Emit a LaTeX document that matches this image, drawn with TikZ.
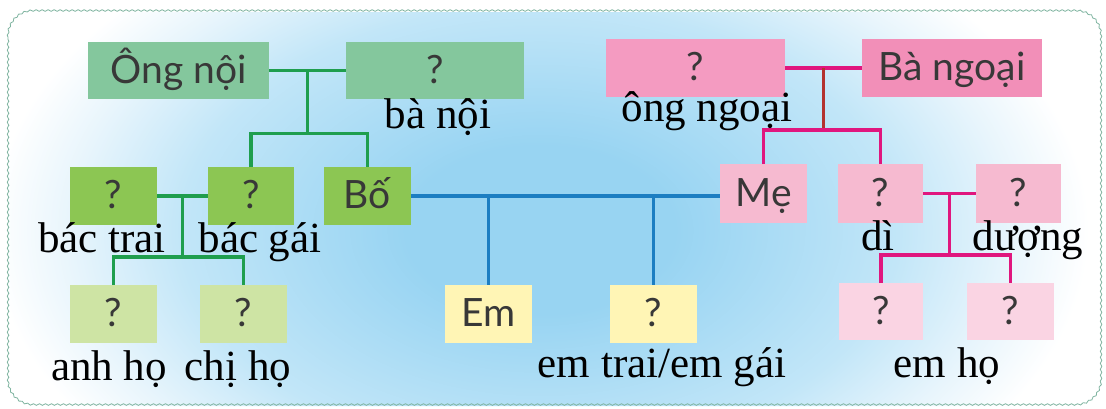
\documentclass[tikz,border=0pt]{standalone}
\usepackage{fontspec}
\setmainfont{Liberation Serif}
\newfontfamily\boxfont{Lato}
\usetikzlibrary{decorations.pathmorphing,calc}
\definecolor{gtop}{HTML}{84C79D}
\definecolor{gmid}{HTML}{8CC653}
\definecolor{glight}{HTML}{CEE4A4}
\definecolor{yel}{HTML}{FFF5B5}
\definecolor{ptopa}{HTML}{F49BC1}
\definecolor{ptopb}{HTML}{F28FB8}
\definecolor{pmid}{HTML}{F6BAD0}
\definecolor{plight}{HTML}{FAD4E3}
\definecolor{gline}{HTML}{1F9E4E}
\definecolor{bline}{HTML}{1C7EC2}
\definecolor{pline}{HTML}{E0167E}
\definecolor{rline}{HTML}{B3322F}
\definecolor{framec}{HTML}{7FB4A0}
\definecolor{bgc}{HTML}{98D4F2}
\definecolor{bgmid}{HTML}{C2E6F8}
\definecolor{bglow}{HTML}{E8F5FC}
\definecolor{boxtext}{HTML}{383838}
\pgfdeclareradialshading{bgshade}{\pgfpoint{0bp}{0bp}}{color(0bp)=(bgc); color(6bp)=(bgc); color(16bp)=(bgmid); color(21bp)=(bglow); color(24.5bp)=(white); color(50bp)=(white)}
\begin{document}
\begin{tikzpicture}[x=1pt,y=-1pt,
  box/.style={inner sep=0pt, outer sep=0pt, text=boxtext, font=\boxfont\fontsize{39}{44}\selectfont, text height=28pt, text depth=3pt},
  lbl/.style={anchor=base, inner sep=0pt, font=\fontsize{43}{48}\selectfont, text=black},
  gl/.style={draw=gline, line width=3.2pt},
  bl/.style={draw=bline, line width=3.2pt},
  pl/.style={draw=pline, line width=3.2pt},
  rl/.style={draw=rline, line width=3.2pt}]
\useasboundingbox (0,0) rectangle (1106,408);
\fill[white] (0,0) rectangle (1106,408);
\begin{scope}
  \clip[rounded corners=25pt] (8,12) rectangle (1101,406);
  \shade[shading=bgshade] (540,230) ellipse [x radius=560, y radius=350];
\end{scope}
\draw[framec, line width=0.8pt, decorate, decoration={snake, amplitude=0.8pt, segment length=6pt}]
  (8,37) arc[start angle=180, end angle=270, radius=25] -- (1076,12)
  arc[start angle=270, end angle=360, radius=25] -- (1101,381)
  arc[start angle=0, end angle=90, radius=25] -- (33,406)
  arc[start angle=90, end angle=180, radius=25] -- cycle;

% boxes
\node[box, fill=gtop, minimum width=181pt, minimum height=57pt] (on) at (178.5,70.5) {Ông nội};
\node[box, fill=gtop, minimum width=178pt, minimum height=57pt] (bn) at (435,70.5) {?};
\node[box, fill=gmid, minimum width=87pt, minimum height=58pt] (bt) at (113.5,196) {?};
\node[box, fill=gmid, minimum width=86pt, minimum height=58pt] (bg) at (251,196) {?};
\node[box, fill=gmid, minimum width=87pt, minimum height=58pt] (bo) at (367.5,196) {Bố};
\node[box, fill=glight, minimum width=87pt, minimum height=58pt] (ah) at (113.5,314) {?};
\node[box, fill=glight, minimum width=87pt, minimum height=58pt] (ch) at (243.5,314) {?};
\node[box, fill=yel, minimum width=87pt, minimum height=58pt] (em) at (488.5,314) {Em};
\node[box, fill=yel, minimum width=87pt, minimum height=58pt] (et) at (653.5,314) {?};
\node[box, fill=ptopa, minimum width=179pt, minimum height=58pt] (ong) at (695.5,68) {?};
\node[box, fill=ptopb, minimum width=180pt, minimum height=58pt] (bng) at (952,68) {Bà ngoại};
\node[box, fill=pmid, minimum width=87pt, minimum height=59pt] (me) at (763.5,193.5) {Mẹ};
\node[box, fill=pmid, minimum width=85pt, minimum height=59pt] (di) at (880.5,193.5) {?};
\node[box, fill=pmid, minimum width=85pt, minimum height=59pt] (du) at (1018.5,193.5) {?};
\node[box, fill=plight, minimum width=84pt, minimum height=57pt] (ca) at (881,311.5) {?};
\node[box, fill=plight, minimum width=87pt, minimum height=57pt] (cb) at (1010.5,311.5) {?};

% green connectors
\draw[gl] (on.east) -- (bn.west);
\coordinate (j1) at ($(on.east)!0.5!(bn.west)$);
\draw[gl] (j1) -- ++(0,63) coordinate (j1b);
\draw[gl] (bg.north) |- (j1b) -| (bo.north);
\draw[gl] (bt.east) -- (bg.west);
\coordinate (j2) at ($(bt.east)!0.5!(bg.west)$);
\draw[gl] (j2) -- ++(0,61) coordinate (j2b);
\draw[gl] (ah.north) |- (j2b) -| (ch.north);

% blue connectors
\draw[bl] (bo.east) -- (bo.east -| me.west);
\draw[bl] (em.north |- bo.east) -- (em.north);
\draw[bl] (et.north |- bo.east) -- (et.north);

% pink connectors
\draw[pl] (ong.east) -- (bng.west);
\coordinate (j3) at ($(ong.east)!0.5!(bng.west)$);
\draw[rl] (j3) -- ++(0,62) coordinate (j3b);
\draw[pl] (me.north) |- (j3b) -| (di.north);
\draw[pl] (di.east) -- (du.west);
\coordinate (j4) at ($(di.east)!0.5!(du.west)$);
\draw[pl] (j4) -- ++(0,61.5) coordinate (j4b);
\draw[pl] (ca.north) |- (j4b) -| (cb.north);

% labels
\node[lbl] (lbn) at (438,128) {bà nội};
\node[lbl] (long) at (707,121) {ông ngoại};
\node[lbl] (lbt) at (102,252) {bác trai};
\node[lbl] (lbg) at (260,252) {bác gái};
\node[lbl] (ldi) at (878,250) {dì};
\node[lbl] (ldu) at (1028,250) {dượng};
\node[lbl] (lah) at (109,380) {anh họ};
\node[lbl] (lch) at (238,380) {chị họ};
\node[lbl] (let) at (662,377) {em trai/em gái};
\node[lbl] (lem) at (947,377) {em họ};
\end{tikzpicture}
\end{document}
